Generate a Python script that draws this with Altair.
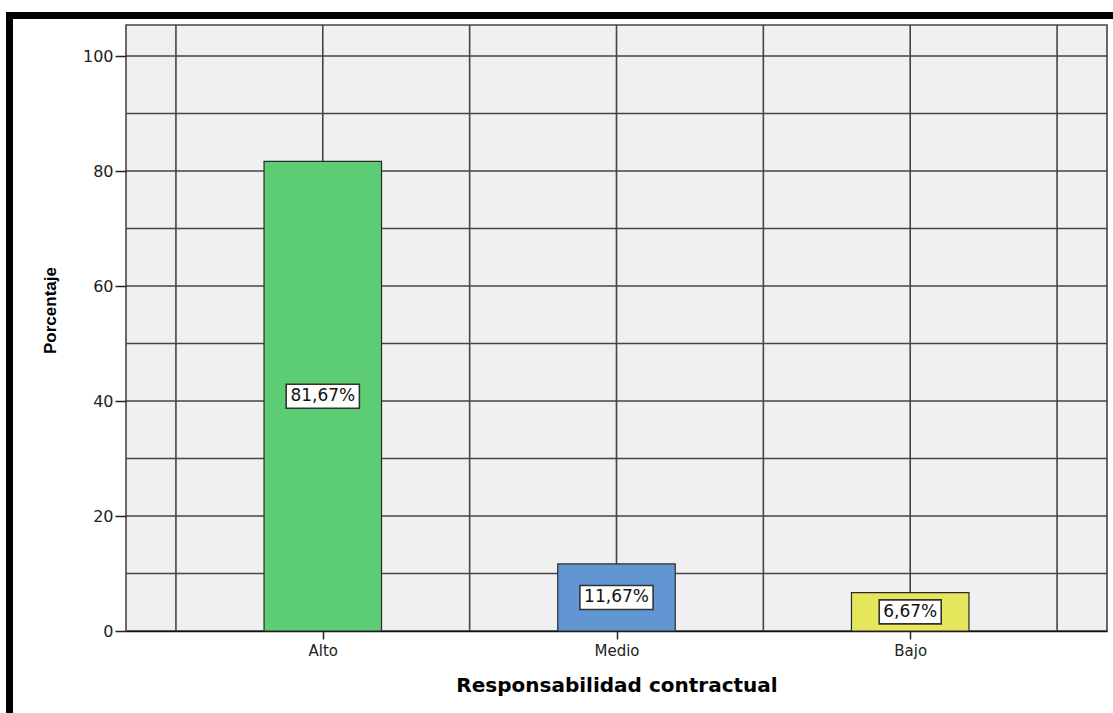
import altair as alt
import pandas as pd

categories = ["Alto", "Medio", "Bajo"]
positions = [0, 1, 2]
percentages = [81.67, 11.67, 6.67]
labels = ["81,67%", "11,67%", "6,67%"]
bar_colors = ["#5ccd72", "#6196d2", "#e6e65c"]
y_ticks = [0, 20, 40, 60, 80, 100]
y_grid = [10, 20, 30, 40, 50, 60, 70, 80, 90, 100]
x_grid = [-0.5, 0, 0.5, 1, 1.5, 2, 2.5]

df = pd.DataFrame({"cat": categories, "pos": positions, "pct": percentages,
                   "label": labels, "color": bar_colors})
grid_x_df = pd.DataFrame({"g": x_grid})
grid_y_df = pd.DataFrame({"g": y_grid})

xscale = alt.Scale(domain=[-0.67, 2.67], nice=False, zero=False)
yscale = alt.Scale(domain=[0, 105.4], nice=False)

label_expr = "[" + ",".join("'%s'" % c for c in categories) + "][datum.value]"

GRID = "#454545"
FONT = "DejaVu Sans"

xaxis = alt.Axis(
    values=positions, labelExpr=label_expr, grid=False, title="Responsabilidad contractual",
    tickSize=8, tickColor="#222", tickWidth=1.5, domainColor="#111", domainWidth=1.5,
    labelFont=FONT, labelFontSize=15, labelColor="#222", labelPadding=4,
    titleFont=FONT, titleFontSize=20, titleFontWeight="bold", titleColor="#000",
    titlePadding=17)
yaxis = alt.Axis(
    values=y_ticks, grid=False, title="Porcentaje", domain=False,
    tickSize=11, tickColor="#222", tickWidth=1.5,
    labelFont=FONT, labelFontSize=16, labelColor="#222", labelPadding=2,
    titleFont="Liberation Sans", titleFontSize=17, titleFontWeight="bold",
    titleColor="#000", titlePadding=23, titleY=285)

vgrid = alt.Chart(grid_x_df).mark_rule(color=GRID, strokeWidth=1.6).encode(
    x=alt.X("g:Q", scale=xscale, axis=xaxis)
)
hgrid = alt.Chart(grid_y_df).mark_rule(color=GRID, strokeWidth=1.6).encode(
    y=alt.Y("g:Q", scale=yscale, axis=yaxis)
)

base = alt.Chart(df).transform_calculate(
    x0="datum.pos - 0.2", x1="datum.pos + 0.2", mid="datum.pct / 2",
    hw="length(datum.label) * 5.6 + 3",
).transform_calculate(
    boxsize="pow(2 * datum.hw, 2)",
    boxpath="'M-1,-' + (12 / datum.hw) + 'H1V' + (12 / datum.hw) + 'H-1Z'",
)

bars = base.mark_bar(stroke="#2a2a2a", strokeWidth=1.2).encode(
    x=alt.X("x0:Q", scale=xscale, axis=xaxis),
    x2="x1:Q",
    y=alt.Y("pct:Q", scale=yscale, axis=yaxis),
    y2=alt.datum(0),
    fill=alt.Fill("color:N", scale=None),
)

boxes = base.mark_point(filled=True, fill="white", stroke="#333", strokeWidth=1.6,
                        opacity=1).encode(
    x=alt.X("pos:Q", scale=xscale, axis=xaxis),
    y=alt.Y("mid:Q", scale=yscale, axis=yaxis),
    size=alt.Size("boxsize:Q", scale=None),
    shape=alt.Shape("boxpath:N", scale=None),
)

texts = base.mark_text(font=FONT, fontSize=17, color="#111", align="center",
                       baseline="middle").encode(
    x=alt.X("pos:Q", scale=xscale, axis=xaxis),
    y=alt.Y("mid:Q", scale=yscale, axis=yaxis),
    text="label:N",
)

frame_left = alt.Chart(df).mark_rect(color="black").encode(
    x=alt.value(-120), x2=alt.value(-113), y=alt.value(-13), y2=alt.value(700)
)
frame_top = alt.Chart(df).mark_rect(color="black").encode(
    x=alt.value(-120), x2=alt.value(1000), y=alt.value(-13), y2=alt.value(-6)
)

chart = alt.layer(vgrid, hgrid, bars, boxes, texts, frame_left, frame_top).properties(
    width=981, height=606,
    autosize=alt.AutoSizeParams(type="none"),
    padding={"left": 126, "top": 25, "right": 6, "bottom": 82},
    background="white",
).configure_view(fill="#f0f0f0", stroke=GRID, strokeWidth=1.6)

chart.save("out.html", embed_options={"renderer": "svg", "actions": False})
